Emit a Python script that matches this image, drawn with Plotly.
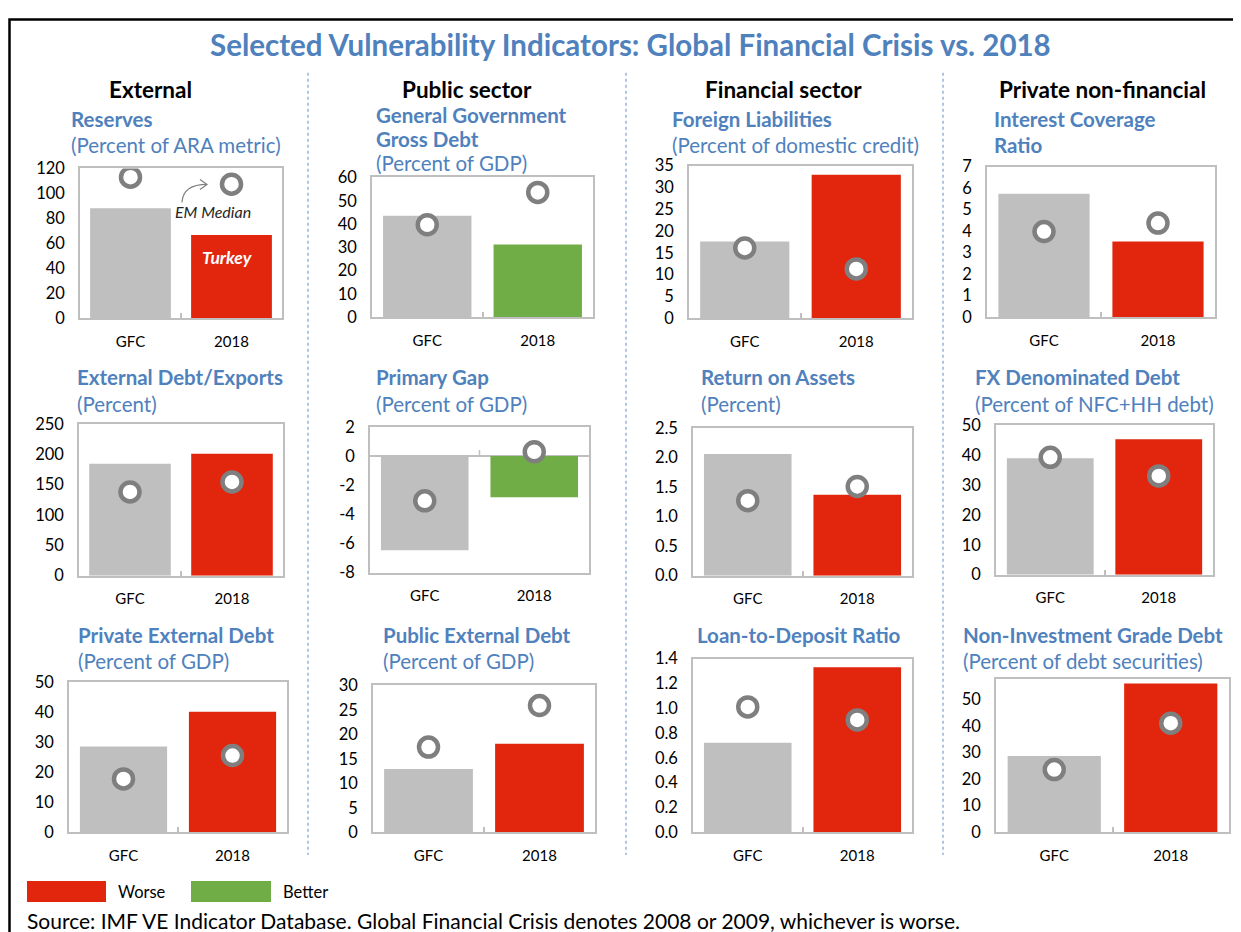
import plotly.graph_objects as go

W, H = 1241, 932

categories = ["GFC", "2018"]

reserves_bar = [88.2, 66.7]
reserves_em = [113.0, 107.4]
gov_debt_bar = [43.6, 31.2]
gov_debt_em = [39.7, 53.6]
foreign_liab_bar = [17.6, 32.9]
foreign_liab_em = [16.1, 11.3]
icr_bar = [5.73, 3.52]
icr_em = [3.98, 4.37]
ext_debt_exports_bar = [184.6, 201.0]
ext_debt_exports_em = [138.0, 154.4]
primary_gap_bar = [-6.46, -2.82]
primary_gap_em = [-3.07, 0.3]
roa_bar = [2.06, 1.37]
roa_em = [1.27, 1.51]
fx_debt_bar = [38.9, 45.2]
fx_debt_em = [39.2, 33.0]
priv_ext_debt_bar = [28.6, 40.2]
priv_ext_debt_em = [17.8, 25.6]
pub_ext_debt_bar = [12.9, 18.1]
pub_ext_debt_em = [17.4, 25.9]
ltd_bar = [0.72, 1.33]
ltd_em = [1.01, 0.905]
nig_bar = [28.7, 56.1]
nig_em = [23.6, 41.1]

primary_gap_ticks = [-8, -6, -4, -2, 0, 2]

column_heads = ["External", "Public sector", "Financial sector", "Private non-financial"]

GRAY = "#BFBFBF"
RED = "#E2260E"
GREEN = "#70AD47"
BLUE = "#4F81BD"
FONT = "Lato"

panels = [
    (reserves_bar, reserves_em, RED, [0, 120], 20, None,
     ["<b>Reserves</b>", "(Percent of ARA metric)"], (80, 282, 168, 318), (69, 118)),
    (gov_debt_bar, gov_debt_em, GREEN, [0, 60], 10, None,
     ["<b>General Government</b>", "<b>Gross Debt</b>", "(Percent of GDP)"], (372, 593, 177, 317), (374, 114)),
    (foreign_liab_bar, foreign_liab_em, RED, [0, 35], 5, None,
     ["<b>Foreign Liabilities</b>", "(Percent of domestic credit)"], (689, 912, 165, 318), (670, 118)),
    (icr_bar, icr_em, RED, [0, 7], 1, None,
     ["<b>Interest Coverage</b>", "<b>Ratio</b>"], (987, 1215, 166, 317), (992, 118)),
    (ext_debt_exports_bar, ext_debt_exports_em, RED, [0, 250], 50, None,
     ["<b>External Debt/Exports</b>", "(Percent)"], (79, 283, 424, 576), (75, 377)),
    (primary_gap_bar, primary_gap_em, GREEN, [-8, 2], 2, None,
     ["<b>Primary Gap</b>", "(Percent of GDP)"], (370, 589, 427, 573), (374, 377)),
    (roa_bar, roa_em, RED, [0, 2.5], 0.5, ".1f",
     ["<b>Return on Assets</b>", "(Percent)"], (693, 912, 428, 576), (699, 377)),
    (fx_debt_bar, fx_debt_em, RED, [0, 50], 10, None,
     ["<b>FX Denominated Debt</b>", "(Percent of NFC+HH debt)"], (996, 1213, 425, 575), (973, 377)),
    (priv_ext_debt_bar, priv_ext_debt_em, RED, [0, 50], 10, None,
     ["<b>Private External Debt</b>", "(Percent of GDP)"], (69, 287, 683, 833), (76, 635)),
    (pub_ext_debt_bar, pub_ext_debt_em, RED, [0, 30], 5, None,
     ["<b>Public External Debt</b>", "(Percent of GDP)"], (373, 595, 686, 833), (381, 635)),
    (ltd_bar, ltd_em, RED, [0, 1.4], 0.2, ".1f",
     ["<b>Loan-to-Deposit Ratio</b>"], (693, 912, 659, 833), (695, 635)),
    (nig_bar, nig_em, RED, [0, 57.6], 10, None,
     ["<b>Non-Investment Grade Debt</b>", "(Percent of debt securities)"], (996, 1229, 680, 833), (961, 635)),
]


# map target screen pixels to paper coordinates (compensates page offset)
def px(x):
    return (x - 8) / W


def py(y):
    return 1 - ((y - 17.2) / 0.9805) / H


fig = go.Figure()
layout = {}
annotations = []
shapes = []

for i, (bars, em, col, yr, dt, fmt, tlines, box, tpos) in enumerate(panels, start=1):
    xa = "x" if i == 1 else f"x{i}"
    ya = "y" if i == 1 else f"y{i}"
    xk = "xaxis" if i == 1 else f"xaxis{i}"
    yk = "yaxis" if i == 1 else f"yaxis{i}"
    L, R, T, B = box
    fig.add_trace(go.Bar(x=categories, y=bars, marker=dict(color=[GRAY, col], line=dict(width=0)),
                         xaxis=xa, yaxis=ya, showlegend=False, hoverinfo="y"))
    fig.add_trace(go.Scatter(x=categories, y=em, mode="markers", xaxis=xa, yaxis=ya, showlegend=False,
                             marker=dict(symbol="circle", size=19, color="white",
                                         line=dict(color="#7F7F7F", width=4.5))))
    layout[xk] = dict(domain=[px(L), px(R)], anchor=ya, type="category", range=[-0.5, 1.5],
                      showline=True, mirror=True, linecolor=GRAY, linewidth=1.5,
                      ticks="" if i == 6 else "inside", tickson="boundaries", ticklen=5,
                      tickcolor=GRAY, tickwidth=1.5, showgrid=False, fixedrange=True,
                      tickfont=dict(family=FONT, size=15, color="#000"), ticklabelstandoff=9)
    ydict = dict(domain=[py(B), py(T)], anchor=xa, range=yr, dtick=dt, tick0=0,
                 showline=True, mirror=True, linecolor=GRAY, linewidth=1.5,
                 ticks="", showgrid=False, fixedrange=True,
                 zeroline=(i == 6), zerolinecolor=GRAY, zerolinewidth=1.5,
                 tickfont=dict(family=FONT, size=16.5, color="#000"), ticklabelstandoff=10)
    if fmt:
        ydict["tickformat"] = fmt
    if i == 6:
        ydict["tickmode"] = "array"
        ydict["tickvals"] = primary_gap_ticks
        ydict["ticktext"] = [str(v) for v in primary_gap_ticks]
        # category-axis tick mark sitting on the zero line
        shapes.append(dict(type="line", xref=xa, yref=ya, x0=0.5, x1=0.5, ysizemode="pixel",
                           yanchor=0, y0=0, y1=6, line=dict(color=GRAY, width=1.5)))
    layout[yk] = ydict
    tx, ty = tpos
    step = 26.5 if len(tlines) < 3 else 24
    for k, line in enumerate(tlines):
        annotations.append(dict(text=line, x=px(tx), y=py(ty + k * step),
                                xref="paper", yref="paper", xanchor="left", yanchor="middle",
                                showarrow=False, font=dict(family=FONT, size=20.5, color=BLUE)))

for name, cx in zip(column_heads, [150, 467, 783, 1102]):
    annotations.append(dict(text=f"<b>{name}</b>", x=px(cx), y=py(89), xref="paper", yref="paper",
                            xanchor="center", yanchor="middle", showarrow=False,
                            font=dict(family=FONT, size=22.5, color="#000")))

annotations.append(dict(text="<b>Selected Vulnerability Indicators: Global Financial Crisis vs. 2018</b>",
                        x=px(630), y=py(44), xref="paper", yref="paper", xanchor="center", yanchor="middle",
                        showarrow=False, font=dict(family=FONT, size=29.5, color=BLUE)))

annotations.append(dict(text="<i>EM Median</i>", x=px(213), y=py(211), xref="paper", yref="paper",
                        xanchor="center", yanchor="middle", showarrow=False,
                        font=dict(family=FONT, size=16, color="#262626")))
annotations.append(dict(text="<b><i>Turkey</i></b>", x=px(228), y=py(257), xref="paper", yref="paper",
                        xanchor="center", yanchor="middle", showarrow=False,
                        font=dict(family=FONT, size=17.5, color="white")))

shapes.append(dict(type="path", xref="paper", yref="paper",
                   path=f"M {px(182)} {py(202)} Q {px(183)} {py(184)} {px(207)} {py(184)}",
                   line=dict(color="#808080", width=1.2)))
shapes.append(dict(type="path", xref="paper", yref="paper",
                   path=f"M {px(200)} {py(179)} L {px(207)} {py(184)} L {px(200)} {py(189)}",
                   line=dict(color="#808080", width=1.2)))

for dx in [308, 626, 943]:
    shapes.append(dict(type="line", xref="paper", yref="paper", x0=px(dx), x1=px(dx), y0=py(72), y1=py(856),
                       line=dict(color="#95B3D7", width=1.5, dash="dot")))

shapes.append(dict(type="rect", xref="paper", yref="paper", x0=px(27), x1=px(106), y0=py(903), y1=py(882),
                   fillcolor=RED, line=dict(width=0)))
shapes.append(dict(type="rect", xref="paper", yref="paper", x0=px(191), x1=px(271), y0=py(903), y1=py(882),
                   fillcolor=GREEN, line=dict(width=0)))
annotations.append(dict(text="Worse", x=px(116), y=py(893), xref="paper", yref="paper", xanchor="left",
                        yanchor="middle", showarrow=False, font=dict(family=FONT, size=16.5, color="#000")))
annotations.append(dict(text="Better", x=px(281), y=py(893), xref="paper", yref="paper", xanchor="left",
                        yanchor="middle", showarrow=False, font=dict(family=FONT, size=16.5, color="#000")))

annotations.append(dict(text="Source: IMF VE Indicator Database. Global Financial Crisis denotes 2008 or 2009, whichever is worse.",
                        x=px(25), y=py(922), xref="paper", yref="paper", xanchor="left", yanchor="middle",
                        showarrow=False, font=dict(family=FONT, size=21, color="#000")))

# outer frame (top edge kept just inside the figure)
shapes.append(dict(type="rect", xref="paper", yref="paper", x0=1.5 / W, x1=1.2, y0=-0.2, y1=1 - 1.5 / H,
                   line=dict(color="#000", width=2.5), fillcolor="rgba(0,0,0,0)"))

fig.update_layout(width=W, height=H, margin=dict(l=0, r=0, t=0, b=0), autosize=False,
                  paper_bgcolor="white", plot_bgcolor="white", bargap=0.2,
                  annotations=annotations, shapes=shapes, showlegend=False, **layout)

fig.write_html("out.html")
